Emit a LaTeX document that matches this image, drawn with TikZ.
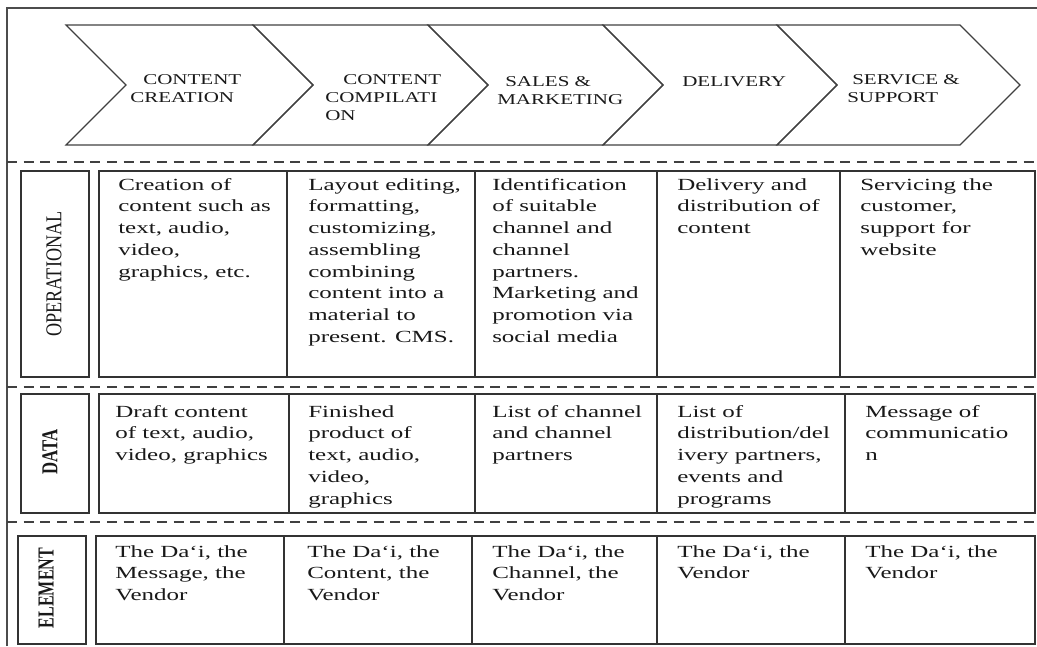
\documentclass[tikz,border=0pt]{standalone}
\usepackage{fontspec}
\usepackage{graphicx}
\setmainfont{Liberation Serif}
\newfontfamily\cellfont[FakeStretch=1.47]{Liberation Serif}
\newfontfamily\headfont[FakeStretch=1.4]{Liberation Serif}

\tikzset{
  cell/.style={draw=black!80, line width=1.2pt},
  celltext/.style={anchor=north west, inner sep=0pt, align=left, text=black!90,
    font=\cellfont\fontsize{12.75}{16.3}\selectfont},
  headtext/.style={anchor=north west, inner sep=0pt, align=left, text=black!90,
    font=\headfont\fontsize{11.25}{13.5}\selectfont},
  rowlabel/.style={rotate=90, inner sep=0pt, text=black!90},
  sep/.style={draw=black!75, line width=1pt, dash pattern=on 7.5pt off 5pt},
  chevron/.style={draw=black!75, line width=0.9pt}
}

\begin{document}
\begin{tikzpicture}[x=0.75pt,y=-0.75pt]
\useasboundingbox (0,0) rectangle (1037,646);
% frame
\draw [line width=1.3pt, black!70] (7,646) -- (7,8) -- (1037,8);
% value chain
\foreach \l/\r in {66/253,253/428,428/603,603/777,777/960}
  \draw [chevron] (\l,25) -- (\r,25) -- (\r+60,85) -- (\r,145) -- (\l,145) -- (\l+60,85) -- cycle;
\node [headtext] (create) at (130,74) {\hspace*{9.75pt}CONTENT\\CREATION};
\node [headtext] (compile) at (325,74) {\hspace*{13.5pt}CONTENT\\COMPILATI\\ON};
\node [headtext] (sales) at (497,76) {\hspace*{6pt}SALES \&\\MARKETING};
\node [headtext] (delivery) at (682,76) {DELIVERY};
\node [headtext] (service) at (847,74) {\hspace*{3.75pt}SERVICE \&\\SUPPORT};
% separators
\foreach \y in {162,387,522}
  \draw [sep] (7,\y) -- (1037,\y);
% operational row
\draw [cell] (21,171) rectangle (89,377);
\foreach \a/\b in {99/287,287/475,475/657,657/840,840/1035}
  \draw [cell] (\a,171) rectangle (\b,377);
\node [rowlabel] (lop) at (54,274) {\resizebox{93.75pt}{11.25pt}{OPERATIONAL}};
\node [celltext] (op1) at (118,178) {Creation of\\content such as\\text, audio,\\video,\\graphics, etc.};
\node [celltext] (op2) at (308,178) {Layout editing,\\formatting,\\customizing,\\assembling\\combining\\content into a\\material to\\present. CMS.};
\node [celltext] (op3) at (492,178) {Identification\\of suitable\\channel and\\channel\\partners.\\Marketing and\\promotion via\\social media};
\node [celltext] (op4) at (677,178) {Delivery and\\distribution of\\content};
\node [celltext] (op5) at (860,178) {Servicing the\\customer,\\support for\\website};
% data row
\draw [cell] (21,394) rectangle (89,513);
\foreach \a/\b in {99/289,289/475,475/657,657/845,845/1035}
  \draw [cell] (\a,394) rectangle (\b,513);
\node [rowlabel] (ldata) at (50,452) {\resizebox{33.75pt}{11.25pt}{\bfseries DATA}};
\node [celltext] (dat1) at (115,405) {Draft content\\of text, audio,\\video, graphics};
\node [celltext] (dat2) at (308,405) {Finished\\product of\\text, audio,\\video,\\graphics};
\node [celltext] (dat3) at (492,405) {List of channel\\and channel\\partners};
\node [celltext] (dat4) at (677,405) {List of\\distribution/del\\ivery partners,\\events and\\programs};
\node [celltext] (dat5) at (865,405) {Message of\\communicatio\\n};
% element row
\draw [cell] (18,536) rectangle (86,644);
\foreach \a/\b in {96/284,284/472,472/657,657/845,845/1035}
  \draw [cell] (\a,536) rectangle (\b,644);
\node [rowlabel] (lel) at (46,588) {\resizebox{60pt}{11.25pt}{\bfseries ELEMENT}};
\node [celltext] (el1) at (115,545) {The Da‘i, the\\Message, the\\Vendor};
\node [celltext] (el2) at (307,545) {The Da‘i, the\\Content, the\\Vendor};
\node [celltext] (el3) at (492,545) {The Da‘i, the\\Channel, the\\Vendor};
\node [celltext] (el4) at (677,545) {The Da‘i, the\\Vendor};
\node [celltext] (el5) at (865,545) {The Da‘i, the\\Vendor};
\end{tikzpicture}
\end{document}
